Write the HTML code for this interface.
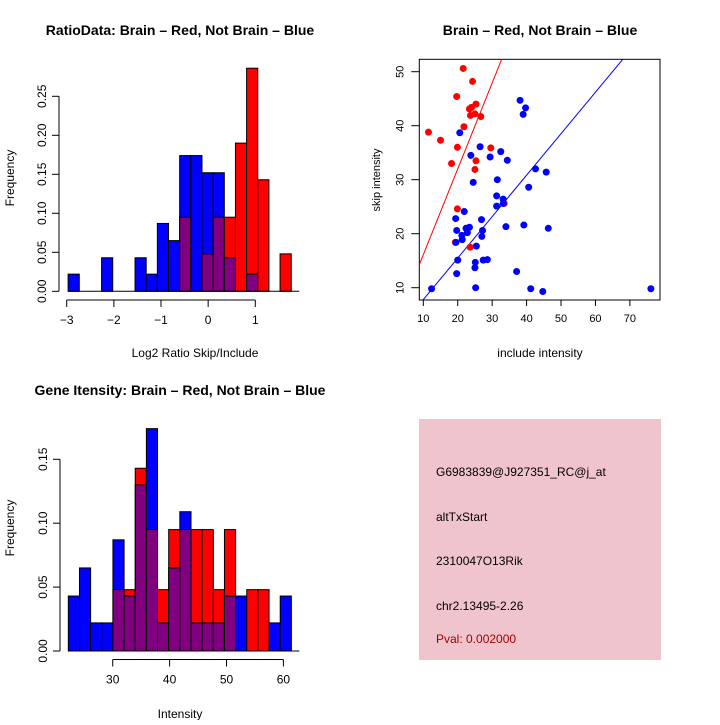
<!DOCTYPE html>
<html><head><meta charset="utf-8"><style>
body{margin:0;background:#fff}
svg{font-family:"Liberation Sans",sans-serif;}
</style></head><body>
<svg id="c" width="720" height="720" viewBox="0 0 720 720">
<rect width="720" height="720" fill="#fff"/>
<text x="180" y="35" font-size="14" font-weight="bold" text-anchor="middle">RatioData: Brain – Red, Not Brain – Blue</text>
<text x="540" y="35" font-size="14" font-weight="bold" text-anchor="middle">Brain – Red, Not Brain – Blue</text>
<text x="180" y="395" font-size="14" font-weight="bold" text-anchor="middle">Gene Itensity: Brain – Red, Not Brain – Blue</text>
<text x="195" y="357" font-size="12" text-anchor="middle">Log2 Ratio Skip/Include</text>
<text x="540" y="357" font-size="12" text-anchor="middle">include intensity</text>
<text x="180" y="718" font-size="12" text-anchor="middle">Intensity</text>
<text transform="translate(14,178) rotate(-90)" font-size="12" text-anchor="middle">Frequency</text>
<text transform="translate(14,528) rotate(-90)" font-size="12" text-anchor="middle">Frequency</text>
<text transform="translate(380,180) rotate(-90)" font-size="11" text-anchor="middle">skip intensity</text>
<rect x="419" y="419" width="242" height="241" fill="#f0c4cc"/>
<g font-size="12">
<text x="436" y="476">G6983839@J927351_RC@j_at</text>
<text x="436" y="521">altTxStart</text>
<text x="436" y="565">2310047O13Rik</text>
<text x="436" y="610">chr2.13495-2.26</text>
<text x="436" y="643" fill="#a00000">Pval: 0.002000</text>
</g>
</svg>
<script>
// Ratio histogram data
const ratioStart = -2.97, ratioWidth = 0.2366;
const ratioBlue = [0.022,0,0,0.043,0,0,0.043,0.022,0.087,0.065,0.174,0.174,0.152,0.152,0.043,0,0.022,0,0,0];
const ratioRed  = [0,0,0,0,0,0,0,0,0,0,0.095,0,0.048,0.095,0.095,0.19,0.286,0.143,0,0.048];
const ratioXTicks = [-3,-2,-1,0,1];
const ratioYTicks = ["0.00","0.05","0.10","0.15","0.20","0.25"];
// Intensity histogram data
const intStart = 22.2, intWidth = 1.96;
const intBlue = [0.043,0.065,0.022,0.022,0.087,0.043,0.130,0.174,0.022,0.065,0.109,0.022,0.022,0.022,0.043,0.043,0,0,0.022,0.043];
const intRed  = [0,0,0,0,0.048,0.048,0.143,0.095,0.048,0.095,0.095,0.095,0.095,0.048,0.095,0,0.048,0.048,0,0];
const intXTicks = [30,40,50,60];
const intYTicks = ["0.00","0.05","0.10","0.15"];
// Scatter data
const redX = [11.5,21.6,24.3,19.7,25.3,24.0,23.4,23.7,25.0,26.7,21.8,15.0,19.9,29.6,18.2,25.3,25.0,19.9,33.5,19.3,23.6];
const redY = [38.8,50.6,48.2,45.4,44.0,43.4,43.1,41.9,42.2,41.7,39.8,37.3,36.0,35.9,33.0,33.5,31.9,24.6,25.6,18.4,17.5];
const blueX = [12.4,20.6,38.1,39.7,39.0,26.5,32.5,23.8,29.4,34.4,24.5,31.5,42.6,45.7,40.6,31.3,33.2,31.3,33.2,21.9,19.4,26.9,34.0,39.2,46.3,22.4,23.4,19.7,22.8,27.2,21.2,27.0,21.3,19.5,25.4,20.0,25.1,25.0,27.4,28.6,19.7,37.1,25.2,41.2,44.7,76.1];
const blueY = [9.8,38.7,44.7,43.3,42.1,36.1,35.2,34.5,34.2,33.6,29.5,30.0,32.0,31.4,28.6,27.0,26.4,25.1,25.6,24.1,22.8,22.6,21.3,21.6,21.0,21.0,21.2,20.6,20.2,20.6,19.7,19.5,18.9,18.4,17.7,15.1,14.7,13.7,15.1,15.2,12.6,13.0,10.0,9.8,9.3,9.8];
const redSlope = 1.59, redIntercept = 0.2;
const blueSlope = 0.768, blueIntercept = 0.12;
const scatterXTicks = [10,20,30,40,50,60,70];
const scatterYTicks = [10,20,30,40,50];

const svg = document.getElementById('c');
const NS = 'http://www.w3.org/2000/svg';
function mk(tag, attrs){const e=document.createElementNS(NS,tag);for(const k in attrs)e.setAttribute(k,attrs[k]);svg.appendChild(e);return e;}

function histogram(prefix, start, width, blue, red, xTicks, yTicks, sx, sy, axisX, tickY){
  for(let i=0;i<blue.length;i++){
    const x0=sx(start+i*width), x1=sx(start+(i+1)*width);
    const b=blue[i], r=red[i];
    const mx=Math.max(b,r), mn=Math.min(b,r);
    if(mx>0){
      const e=mk('rect',{x:x0,y:sy(mx),width:x1-x0,height:sy(0)-sy(mx),fill:b>=r?'#0000ff':'#ff0000',stroke:'#000','stroke-width':1});
      
      
    }
    if(mn>0){
      const e=mk('rect',{x:x0,y:sy(mn),width:x1-x0,height:sy(0)-sy(mn),fill:'#800080',stroke:'#000','stroke-width':1});
      
      
    }
  }
  const bl=mk('line',{x1:sx(start),x2:sx(start+blue.length*width)+8,y1:sy(0),y2:sy(0),stroke:'#000','stroke-width':1});
  
  
  const xa=mk('line',{x1:sx(xTicks[0]),x2:sx(xTicks[xTicks.length-1]),y1:tickY,y2:tickY,stroke:'#000'});
  
  
  xTicks.forEach(t=>{
    mk('line',{x1:sx(t),x2:sx(t),y1:tickY,y2:tickY+7,stroke:'#000'});
    const tx=mk('text',{x:sx(t),y:tickY+24,'font-size':12,'text-anchor':'middle'});
    tx.textContent=String(t).replace('-','−');
    
    
  });
  const yv=yTicks.map(Number);
  const ya=mk('line',{x1:axisX,x2:axisX,y1:sy(yv[0]),y2:sy(yv[yv.length-1]),stroke:'#000'});
  
  
  yTicks.forEach(t=>{
    const v=Number(t);
    mk('line',{x1:axisX-7,x2:axisX,y1:sy(v),y2:sy(v),stroke:'#000'});
    const tx=mk('text',{transform:`translate(${axisX-13},${sy(v)}) rotate(-90)`,'font-size':12,'text-anchor':'middle'});
    tx.textContent=t;
    
    
  });
}

histogram('ratio', ratioStart, ratioWidth, ratioBlue, ratioRed, ratioXTicks, ratioYTicks,
  v=>66.7+(v+3)*47.15, v=>291.3-v*780, 59, 300);
histogram('intensity', intStart, intWidth, intBlue, intRed, intXTicks, intYTicks,
  v=>112.7+(v-30)*5.69, v=>651-v*1278, 60, 659.5);

// Scatter
const px0=419.3, px1=660, py0=59.3, py1=300;
const sxS=v=>423.3+(v-10)*3.443, syS=v=>287.7-(v-10)*5.4;
const clip=mk('clipPath',{id:'sc'});
const cr=document.createElementNS(NS,'rect');
cr.setAttribute('x',px0);cr.setAttribute('y',py0);cr.setAttribute('width',px1-px0);cr.setAttribute('height',py1-py0);
clip.appendChild(cr);
const fr=mk('rect',{x:px0,y:py0,width:px1-px0,height:py1-py0,fill:'none',stroke:'#000'});


function fitLine(slope, icpt, color, name){
  const xa=0, xb=100;
  const l=mk('line',{x1:sxS(xa),y1:syS(icpt+slope*xa),x2:sxS(xb),y2:syS(icpt+slope*xb),stroke:color,'stroke-width':1,'clip-path':'url(#sc)'});
  
  
}
fitLine(redSlope, redIntercept, '#ff0000', 'red-fit-line');
fitLine(blueSlope, blueIntercept, '#0000ff', 'blue-fit-line');
redX.forEach((x,i)=>{
  const c=mk('circle',{cx:sxS(x),cy:syS(redY[i]),r:3.5,fill:'#ff0000'});
  
  
});
blueX.forEach((x,i)=>{
  const c=mk('circle',{cx:sxS(x),cy:syS(blueY[i]),r:3.5,fill:'#0000ff'});
  
  
});
scatterXTicks.forEach(t=>{
  mk('line',{x1:sxS(t),x2:sxS(t),y1:py1,y2:py1+6,stroke:'#000'});
  const tx=mk('text',{x:sxS(t),y:py1+22,'font-size':11,'text-anchor':'middle'});
  tx.textContent=t;
  
  
});
scatterYTicks.forEach(t=>{
  mk('line',{x1:px0-8,x2:px0,y1:syS(t),y2:syS(t),stroke:'#000'});
  const tx=mk('text',{transform:`translate(${px0-16},${syS(t)}) rotate(-90)`,'font-size':11,'text-anchor':'middle'});
  tx.textContent=t;
  
  
});
</script>
</body></html>
